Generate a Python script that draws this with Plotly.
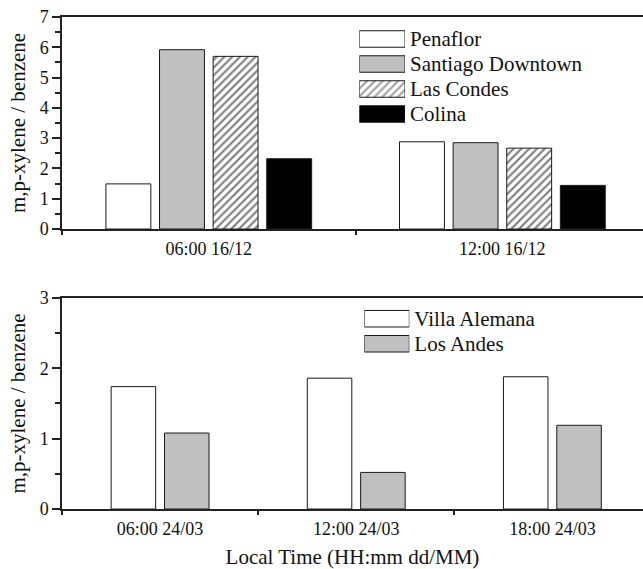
import plotly.graph_objects as go

# ---- data -------------------------------------------------------------
top_times = ["06:00 16/12", "12:00 16/12"]
top_sites = ["Penaflor", "Santiago Downtown", "Las Condes", "Colina"]
penaflor = [1.49, 2.88]
santiago_downtown = [5.92, 2.85]
las_condes = [5.70, 2.67]
colina = [2.32, 1.44]

bottom_times = ["06:00 24/03", "12:00 24/03", "18:00 24/03"]
bottom_sites = ["Villa Alemana", "Los Andes"]
villa_alemana = [1.74, 1.86, 1.88]
los_andes = [1.08, 0.52, 1.19]

# ---- styles -----------------------------------------------------------
FONT = "Liberation Serif"
INK = "#111111"
AXIS = "#222222"
GRAY = "#c0c0c0"

# fill, pattern for each site
top_styles = [("white", ""), (GRAY, ""), ("white", "/"), ("black", "")]
bottom_styles = [("white", ""), (GRAY, "")]
HATCH = dict(fgcolor="#000000", size=5.5, solidity=0.4)

fig = go.Figure()


def add_group(times, series, names, styles, xa, ya, pitch, width):
    n = len(series)
    for i, (vals, name, (fill, shape)) in enumerate(zip(series, names, styles)):
        off = (i - (n - 1) / 2) * pitch - width / 2
        fig.add_trace(go.Bar(
            x=times, y=vals, name=name, xaxis=xa, yaxis=ya,
            width=width, offset=off, showlegend=False,
            marker=dict(color=fill, line=dict(color="#1a1a1a", width=1),
                        pattern=dict(HATCH, shape=shape, bgcolor=fill)),
        ))


add_group(top_times, [penaflor, santiago_downtown, las_condes, colina],
          top_sites, top_styles, "x", "y", pitch=0.1826, width=0.153)
add_group(bottom_times, [villa_alemana, los_andes],
          bottom_sites, bottom_styles, "x2", "y2", pitch=0.272, width=0.227)


# key boxes drawn as a small horizontal bar chart with names as tick labels
def add_key(names, styles, xa, ya):
    fig.add_trace(go.Bar(
        x=[1] * len(names), y=names, orientation="h", xaxis=xa, yaxis=ya,
        width=0.66, showlegend=False, hoverinfo="skip",
        marker=dict(color=[s[0] for s in styles],
                    line=dict(color="#1a1a1a", width=1),
                    pattern=dict(HATCH, shape=[s[1] for s in styles],
                                 bgcolor=[s[0] for s in styles])),
    ))


add_key(top_sites, top_styles, "x3", "y3")
add_key(bottom_sites, bottom_styles, "x4", "y4")

tick_font = dict(family=FONT, size=18, color=INK)
title_font = dict(family=FONT, size=21, color=INK)

common_x = dict(type="category", showline=True, linecolor=AXIS, linewidth=1.5,
                mirror=True, ticks="outside", tickson="boundaries", ticklen=4,
                tickcolor=AXIS, tickwidth=1.5, showgrid=False, zeroline=False,
                tickfont=tick_font, ticklabelstandoff=3, automargin=False)
common_y = dict(showline=True, linecolor=AXIS, linewidth=1.5, ticks="outside",
                ticklen=8, tickcolor=AXIS, tickwidth=1.5, dtick=1, tick0=0,
                showgrid=False, zeroline=False, tickfont=tick_font, automargin=False,
                minor=dict(ticks="outside", ticklen=5, tickmode="linear",
                           tick0=0, dtick=0.5, tickcolor=AXIS, tickwidth=1.5),
                title=dict(text="m,p-xylene / benzene", font=title_font, standoff=8))


def key_y(names):
    return dict(type="category", side="right", showline=False, ticks="",
                showgrid=False, zeroline=False, ticklabelstandoff=4,
                automargin=False, categoryarray=names,
                tickmode="array", tickvals=names, ticktext=names,
                range=[len(names) - 0.5, -0.5],
                tickfont=dict(family=FONT, size=21, color=INK))


key_x = dict(range=[0, 1], visible=False, fixedrange=True, automargin=False)

fig.update_layout(
    width=643, height=569,
    margin=dict(l=62, r=0, t=17, b=60, autoexpand=False),
    paper_bgcolor="white", plot_bgcolor="white",
    barmode="overlay",
    xaxis=dict(common_x, domain=[0, 1], anchor="y", categoryarray=top_times,
               range=[-0.5, 1.479]),
    yaxis=dict(common_y, domain=[0.5691, 1], anchor="x", range=[0, 7]),
    xaxis2=dict(common_x, domain=[0, 1], anchor="y2", categoryarray=bottom_times,
                range=[-0.5, 2.462],
                title=dict(text="Local Time (HH:mm dd/MM)", font=title_font, standoff=18)),
    yaxis2=dict(common_y, domain=[0, 0.4289], anchor="x2", range=[0, 3]),
    xaxis3=dict(key_x, domain=[0.5117, 0.5904], anchor="y3"),
    yaxis3=dict(key_y(top_sites), domain=[0.7774, 0.9807], anchor="x3"),
    xaxis4=dict(key_x, domain=[0.5203, 0.5978], anchor="y4"),
    yaxis4=dict(key_y(bottom_sites), domain=[0.3104, 0.4122], anchor="x4"),
)

fig.write_html("out.html")
